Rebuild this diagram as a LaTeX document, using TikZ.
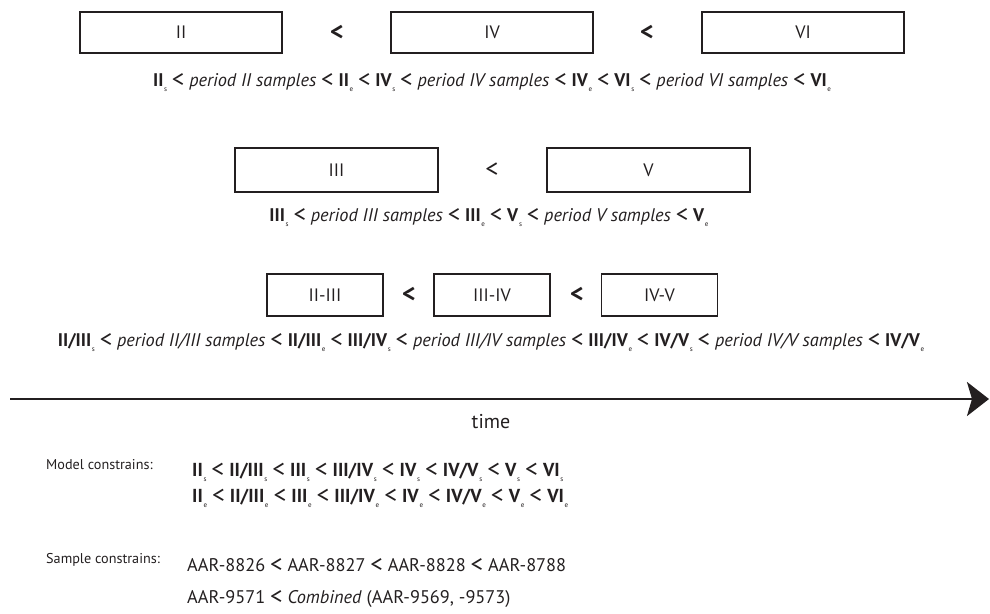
\documentclass[tikz,border=0pt]{standalone}
\usepackage{fontspec}
\usepackage{graphicx}
\setmainfont{PT Sans}
\usetikzlibrary{arrows.meta}
\definecolor{ink}{HTML}{231F20}
\newcommand\sbx[1]{\kern0.6pt\raisebox{-0.6ex}{\fontsize{7}{7}\selectfont\mdseries #1}}
\newcommand\Bs[1]{\textbf{#1}\sbx{s}}
\newcommand\Be[1]{\textbf{#1}\sbx{e}}
\newcommand\LT{\ \raisebox{-0.12ex}{\scalebox{1.35}{\mdseries\upshape <}}\ }
\begin{document}
\begin{tikzpicture}[x=1pt,y=-1pt,
  every node/.style={text=ink},
  period/.style={draw=ink, line width=1.1pt, inner sep=0pt, font=\fontsize{18}{18}\selectfont},
  ltsign/.style={font=\bfseries\fontsize{26}{26}\selectfont},
  caption/.style={anchor=base, inner sep=0pt, font=\fontsize{18.3}{18.3}\selectfont},
  lbl/.style={anchor=base west, inner sep=0pt, font=\fontsize{14.2}{14.2}\selectfont},
  frm/.style={anchor=base west, inner sep=0pt, font=\fontsize{18.8}{18.8}\selectfont}]
\useasboundingbox (0,0) rectangle (990,613);
% row 1
\node[period, minimum width=202pt, minimum height=41pt] (II) at (181,32.5) {II};
\node[ltsign] (lt1) at (337,32.5) {<};
\node[period, minimum width=202pt, minimum height=41pt] (IV) at (492,32.5) {IV};
\node[ltsign] (lt2) at (647,32.5) {<};
\node[period, minimum width=202pt, minimum height=41pt] (VI) at (803,32.5) {VI};
\node[caption] (cap1) at (492,86) {\Bs{II}\LT\textit{period II samples}\LT\Be{II}\LT\Bs{IV}\LT\textit{period IV samples}\LT\Be{IV}\LT\Bs{VI}\LT\textit{period VI samples}\LT\Be{VI}};
% row 2
\node[period, minimum width=203pt, minimum height=44pt] (III) at (336.5,170) {III};
\node[font=\fontsize{26}{26}\selectfont] (lt3) at (492,170) {<};
\node[period, minimum width=203pt, minimum height=44pt] (V) at (648.5,170) {V};
\node[caption] (cap2) at (489,221) {\Bs{III}\LT\textit{period III samples}\LT\Be{III}\LT\Bs{V}\LT\textit{period V samples}\LT\Be{V}};
% row 3
\node[period, minimum width=116pt, minimum height=42pt] (IIIII) at (325,295) {II-III};
\node[ltsign] (lt4) at (409,295) {<};
\node[period, minimum width=116pt, minimum height=42pt] (IIIIV) at (492,295) {III-IV};
\node[ltsign] (lt5) at (577,295) {<};
\node[period, minimum width=116pt, minimum height=42pt] (IVV) at (659.5,295) {IV-V};
\node[caption] (cap3) at (491,346) {\Bs{II/III}\LT\textit{period II/III samples}\LT\Be{II/III}\LT\Bs{III/IV}\LT\textit{period III/IV samples}\LT\Be{III/IV}\LT\Bs{IV/V}\LT\textit{period IV/V samples}\LT\Be{IV/V}};
% time arrow
\coordinate (t0) at (10,399);
\coordinate (t1) at (989,399);
\draw[draw=ink, line width=2.7pt, -{Stealth[length=22pt, width=34pt, inset=5pt]}] (t0) -- (t1);
\node (time) at (491,422) {\fontsize{20}{20}\selectfont time};
% constraints
\node[lbl] (ml) at (46,469) {Model constrains:};
\node[frm] (m1) at (192,476) {\Bs{II}\LT\Bs{II/III}\LT\Bs{III}\LT\Bs{III/IV}\LT\Bs{IV}\LT\Bs{IV/V}\LT\Bs{V}\LT\Bs{VI}};
\node[frm] (m2) at (192,502) {\Be{II}\LT\Be{II/III}\LT\Be{III}\LT\Be{III/IV}\LT\Be{IV}\LT\Be{IV/V}\LT\Be{V}\LT\Be{VI}};
\node[lbl] (sl) at (46,563) {Sample constrains:};
\node[frm, font=\fontsize{18.3}{18.3}\selectfont] (s1) at (187,571) {AAR-8826\LT AAR-8827\LT AAR-8828\LT AAR-8788};
\node[frm, font=\fontsize{18.3}{18.3}\selectfont] (s2) at (187,603) {AAR-9571\LT\textit{Combined} (AAR-9569, -9573)};
\end{tikzpicture}
\end{document}
